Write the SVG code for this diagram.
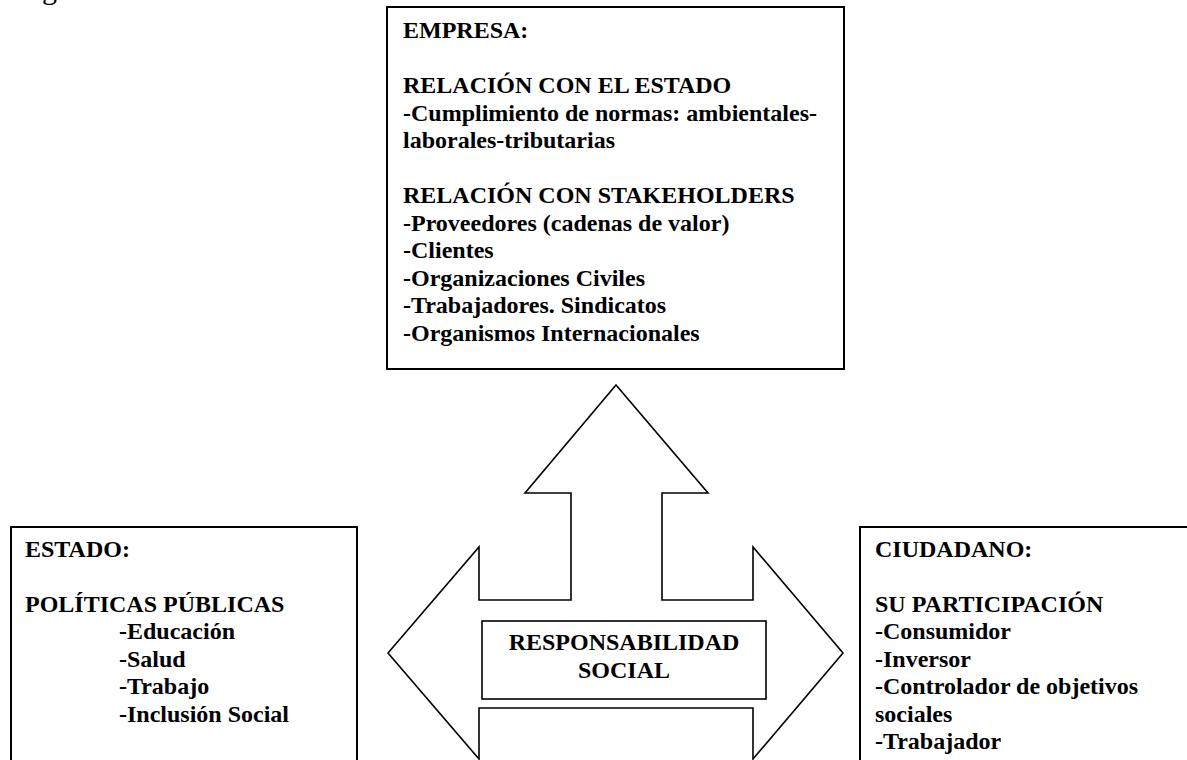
<svg xmlns="http://www.w3.org/2000/svg" width="1187" height="760" viewBox="0 0 1187 760">
  <style>
    .box { fill: #ffffff; stroke: #000000; stroke-width: 2; }
    .arrow { fill: #ffffff; stroke: #000000; stroke-width: 1.6; stroke-linejoin: miter; }
    .t { font-family: "Liberation Serif", "Times New Roman", serif; font-size: 24px; font-weight: bold; fill: #000000; }
    .c { text-anchor: middle; }
    .frag { font-family: "Liberation Serif", "Times New Roman", serif; font-size: 30px; fill: #000000; }
  </style>
  <rect x="0" y="0" width="1187" height="760" fill="#ffffff"/>
  <text class="frag" x="42" y="-1">g</text>

  <g id="connectors">
    <path class="arrow" d="M388,653 L479,547 L479,600 L571,600 L571,493 L525,493 L616,385 L708,493 L662,493 L662,600 L753,600 L753,547 L843,653 L753,759 L753,708 L479,708 L479,759 Z"/>
  </g>

  <g id="empresa">
    <rect class="box" x="387" y="7" width="457" height="362"/>
    <text class="t" x="403" y="38">EMPRESA:</text>
    <text class="t" x="403" y="93">RELACIÓN CON EL ESTADO</text>
    <text class="t" x="403" y="120.5">-Cumplimiento de normas: ambientales-</text>
    <text class="t" x="403" y="148">laborales-tributarias</text>
    <text class="t" x="403" y="203">RELACIÓN CON STAKEHOLDERS</text>
    <text class="t" x="403" y="230.5">-Proveedores (cadenas de valor)</text>
    <text class="t" x="403" y="258">-Clientes</text>
    <text class="t" x="403" y="285.5">-Organizaciones Civiles</text>
    <text class="t" x="403" y="313">-Trabajadores. Sindicatos</text>
    <text class="t" x="403" y="340.5">-Organismos Internacionales</text>
  </g>

  <g id="estado">
    <rect class="box" x="11" y="527" width="346" height="260"/>
    <text class="t" x="25" y="556.5">ESTADO:</text>
    <text class="t" x="25" y="611.5">POLÍTICAS PÚBLICAS</text>
    <text class="t" x="119" y="639">-Educación</text>
    <text class="t" x="119" y="666.5">-Salud</text>
    <text class="t" x="119" y="694">-Trabajo</text>
    <text class="t" x="119" y="721.5">-Inclusión Social</text>
  </g>

  <g id="ciudadano">
    <rect class="box" x="860" y="527" width="400" height="260"/>
    <text class="t" x="875" y="556.5">CIUDADANO:</text>
    <text class="t" x="875" y="611.5">SU PARTICIPACIÓN</text>
    <text class="t" x="875" y="639">-Consumidor</text>
    <text class="t" x="875" y="666.5">-Inversor</text>
    <text class="t" x="875" y="694">-Controlador de objetivos</text>
    <text class="t" x="875" y="721.5">sociales</text>
    <text class="t" x="875" y="749">-Trabajador</text>
  </g>

  <g id="responsabilidad">
    <rect class="box" x="482" y="621" width="284" height="78" style="stroke-width:1.6"/>
    <text class="t c" x="624" y="650">RESPONSABILIDAD</text>
    <text class="t c" x="624" y="678">SOCIAL</text>
  </g>
</svg>
